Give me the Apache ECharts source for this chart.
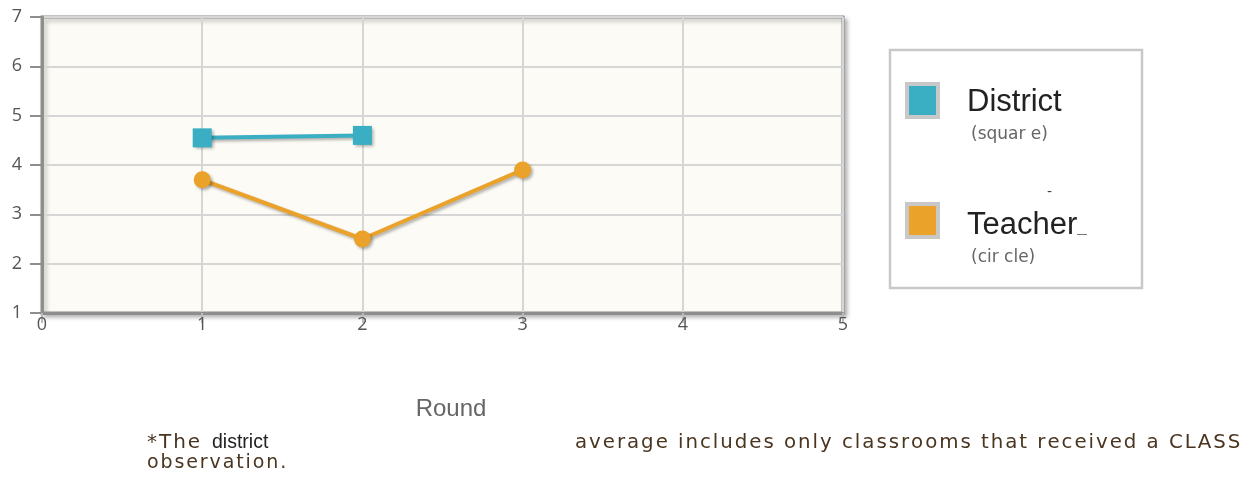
<!DOCTYPE html>
<html>
<head>
<meta charset="utf-8">
<script src="https://cdn.jsdelivr.net/npm/echarts@6/dist/echarts.min.js"></script>
<style>
  html, body { margin: 0; padding: 0; background: #fff; }
  #chart { width: 1252px; height: 481px; }
</style>
</head>
<body>
<div id="chart"></div>
<script>
// rounds on x, score on y
const districtData = [[1, 4.55], [2, 4.6]];
const teacherData = [[1, 3.7], [2, 2.5], [3, 3.9]];

const districtColor = '#3aaec3';
const teacherColor = '#eaa22a';
const axisColor = '#8e8e8e';
const gridLineColor = '#d6d6d6';
const labelColor = '#555';
const noteColor = '#4a3520';
const noteFont = 'DejaVu Sans';

const lineShadow = {
  shadowColor: 'rgba(0,0,0,0.3)',
  shadowBlur: 3,
  shadowOffsetX: 2,
  shadowOffsetY: 2,
};

// the footnote is letter-spaced in the original
const spaced = (s) => s.split('').join('\u200A');

const chart = echarts.init(document.getElementById('chart'));

chart.setOption({
  animation: false,
  grid: {
    left: 42,
    top: 17,
    right: 409,
    bottom: 168,
    show: true,
    backgroundColor: '#fdfbf5',
    borderColor: axisColor,
    borderWidth: 3,
    shadowColor: 'rgba(0,0,0,0.25)',
    shadowBlur: 4,
    shadowOffsetX: 3,
    shadowOffsetY: 3,
  },
  xAxis: {
    type: 'value',
    min: 0,
    max: 5,
    interval: 1,
    axisLine: { lineStyle: { color: axisColor, width: 3 } },
    axisTick: { show: true, length: 10, lineStyle: { color: '#bbb', width: 2 } },
    axisLabel: { color: labelColor, fontSize: 18, fontFamily: 'Open Sans', margin: 3 },
    splitLine: { lineStyle: { color: gridLineColor, width: 2 } },
  },
  yAxis: {
    type: 'value',
    min: 1,
    max: 7,
    interval: 1,
    axisLine: { show: true, lineStyle: { color: axisColor, width: 3 } },
    axisTick: { show: true, length: 12, lineStyle: { color: axisColor, width: 2 } },
    axisLabel: { color: labelColor, fontSize: 18, fontFamily: 'Open Sans', margin: 20 },
    splitLine: { lineStyle: { color: gridLineColor, width: 2 } },
  },
  series: [
    {
      name: 'District',
      type: 'line',
      data: districtData,
      symbol: 'rect',
      symbolSize: 19,
      lineStyle: { color: districtColor, width: 4, ...lineShadow },
      itemStyle: { color: districtColor, ...lineShadow },
    },
    {
      name: 'Teacher',
      type: 'line',
      data: teacherData,
      symbol: 'circle',
      symbolSize: 17,
      lineStyle: { color: teacherColor, width: 4, ...lineShadow },
      itemStyle: { color: teacherColor, ...lineShadow },
    },
  ],
  graphic: [
    // legend box
    {
      type: 'rect',
      shape: { x: 890, y: 50, width: 252, height: 238 },
      style: { fill: '#fff', stroke: '#c8c8c8', lineWidth: 2.5 },
    },
    {
      type: 'rect',
      shape: { x: 907, y: 84, width: 31, height: 33 },
      style: { fill: districtColor, stroke: '#c8c8c8', lineWidth: 4 },
    },
    {
      type: 'text',
      x: 967, y: 102,
      style: { text: 'District', fontSize: 31, fontFamily: 'Liberation Sans', fill: '#222', verticalAlign: 'middle' },
    },
    {
      type: 'text',
      x: 971, y: 135,
      style: { text: '(squar e)', fontSize: 17, fontFamily: noteFont, fill: '#666', verticalAlign: 'middle' },
    },
    {
      type: 'text',
      x: 1047, y: 192,
      style: { text: '-', fontSize: 14, fontFamily: noteFont, fill: '#444', verticalAlign: 'middle' },
    },
    {
      type: 'rect',
      shape: { x: 907, y: 204, width: 31, height: 33 },
      style: { fill: teacherColor, stroke: '#c8c8c8', lineWidth: 4 },
    },
    {
      type: 'text',
      x: 967, y: 225,
      style: { text: 'Teacher', fontSize: 31, fontFamily: 'Liberation Sans', fill: '#222', verticalAlign: 'middle' },
    },
    {
      type: 'rect',
      shape: { x: 1077, y: 234, width: 10, height: 1 },
      style: { fill: '#777' },
    },
    {
      type: 'text',
      x: 971, y: 258,
      style: { text: '(cir cle)', fontSize: 17, fontFamily: noteFont, fill: '#666', verticalAlign: 'middle' },
    },
    // axis title
    {
      type: 'text',
      x: 451, y: 409,
      style: {
        text: 'Round', fontSize: 24, fontFamily: 'Liberation Sans', fill: '#666',
        align: 'center', verticalAlign: 'middle',
      },
    },
    // footnote
    {
      type: 'text',
      x: 147, y: 443,
      style: { text: spaced('*The'), fontSize: 20, fontFamily: noteFont, fill: noteColor, verticalAlign: 'middle' },
    },
    {
      type: 'text',
      x: 212, y: 443,
      style: { text: 'district', fontSize: 19.5, fontFamily: 'Liberation Sans', fill: '#222', verticalAlign: 'middle' },
    },
    {
      type: 'text',
      x: 575, y: 443,
      style: {
        text: spaced('average includes only classrooms that received a CLASS'),
        fontSize: 19.8, fontFamily: noteFont, fill: noteColor, verticalAlign: 'middle',
      },
    },
    {
      type: 'text',
      x: 147, y: 463,
      style: { text: spaced('observation.'), fontSize: 19, fontFamily: noteFont, fill: noteColor, verticalAlign: 'middle' },
    },
  ],
});
</script>
</body>
</html>
